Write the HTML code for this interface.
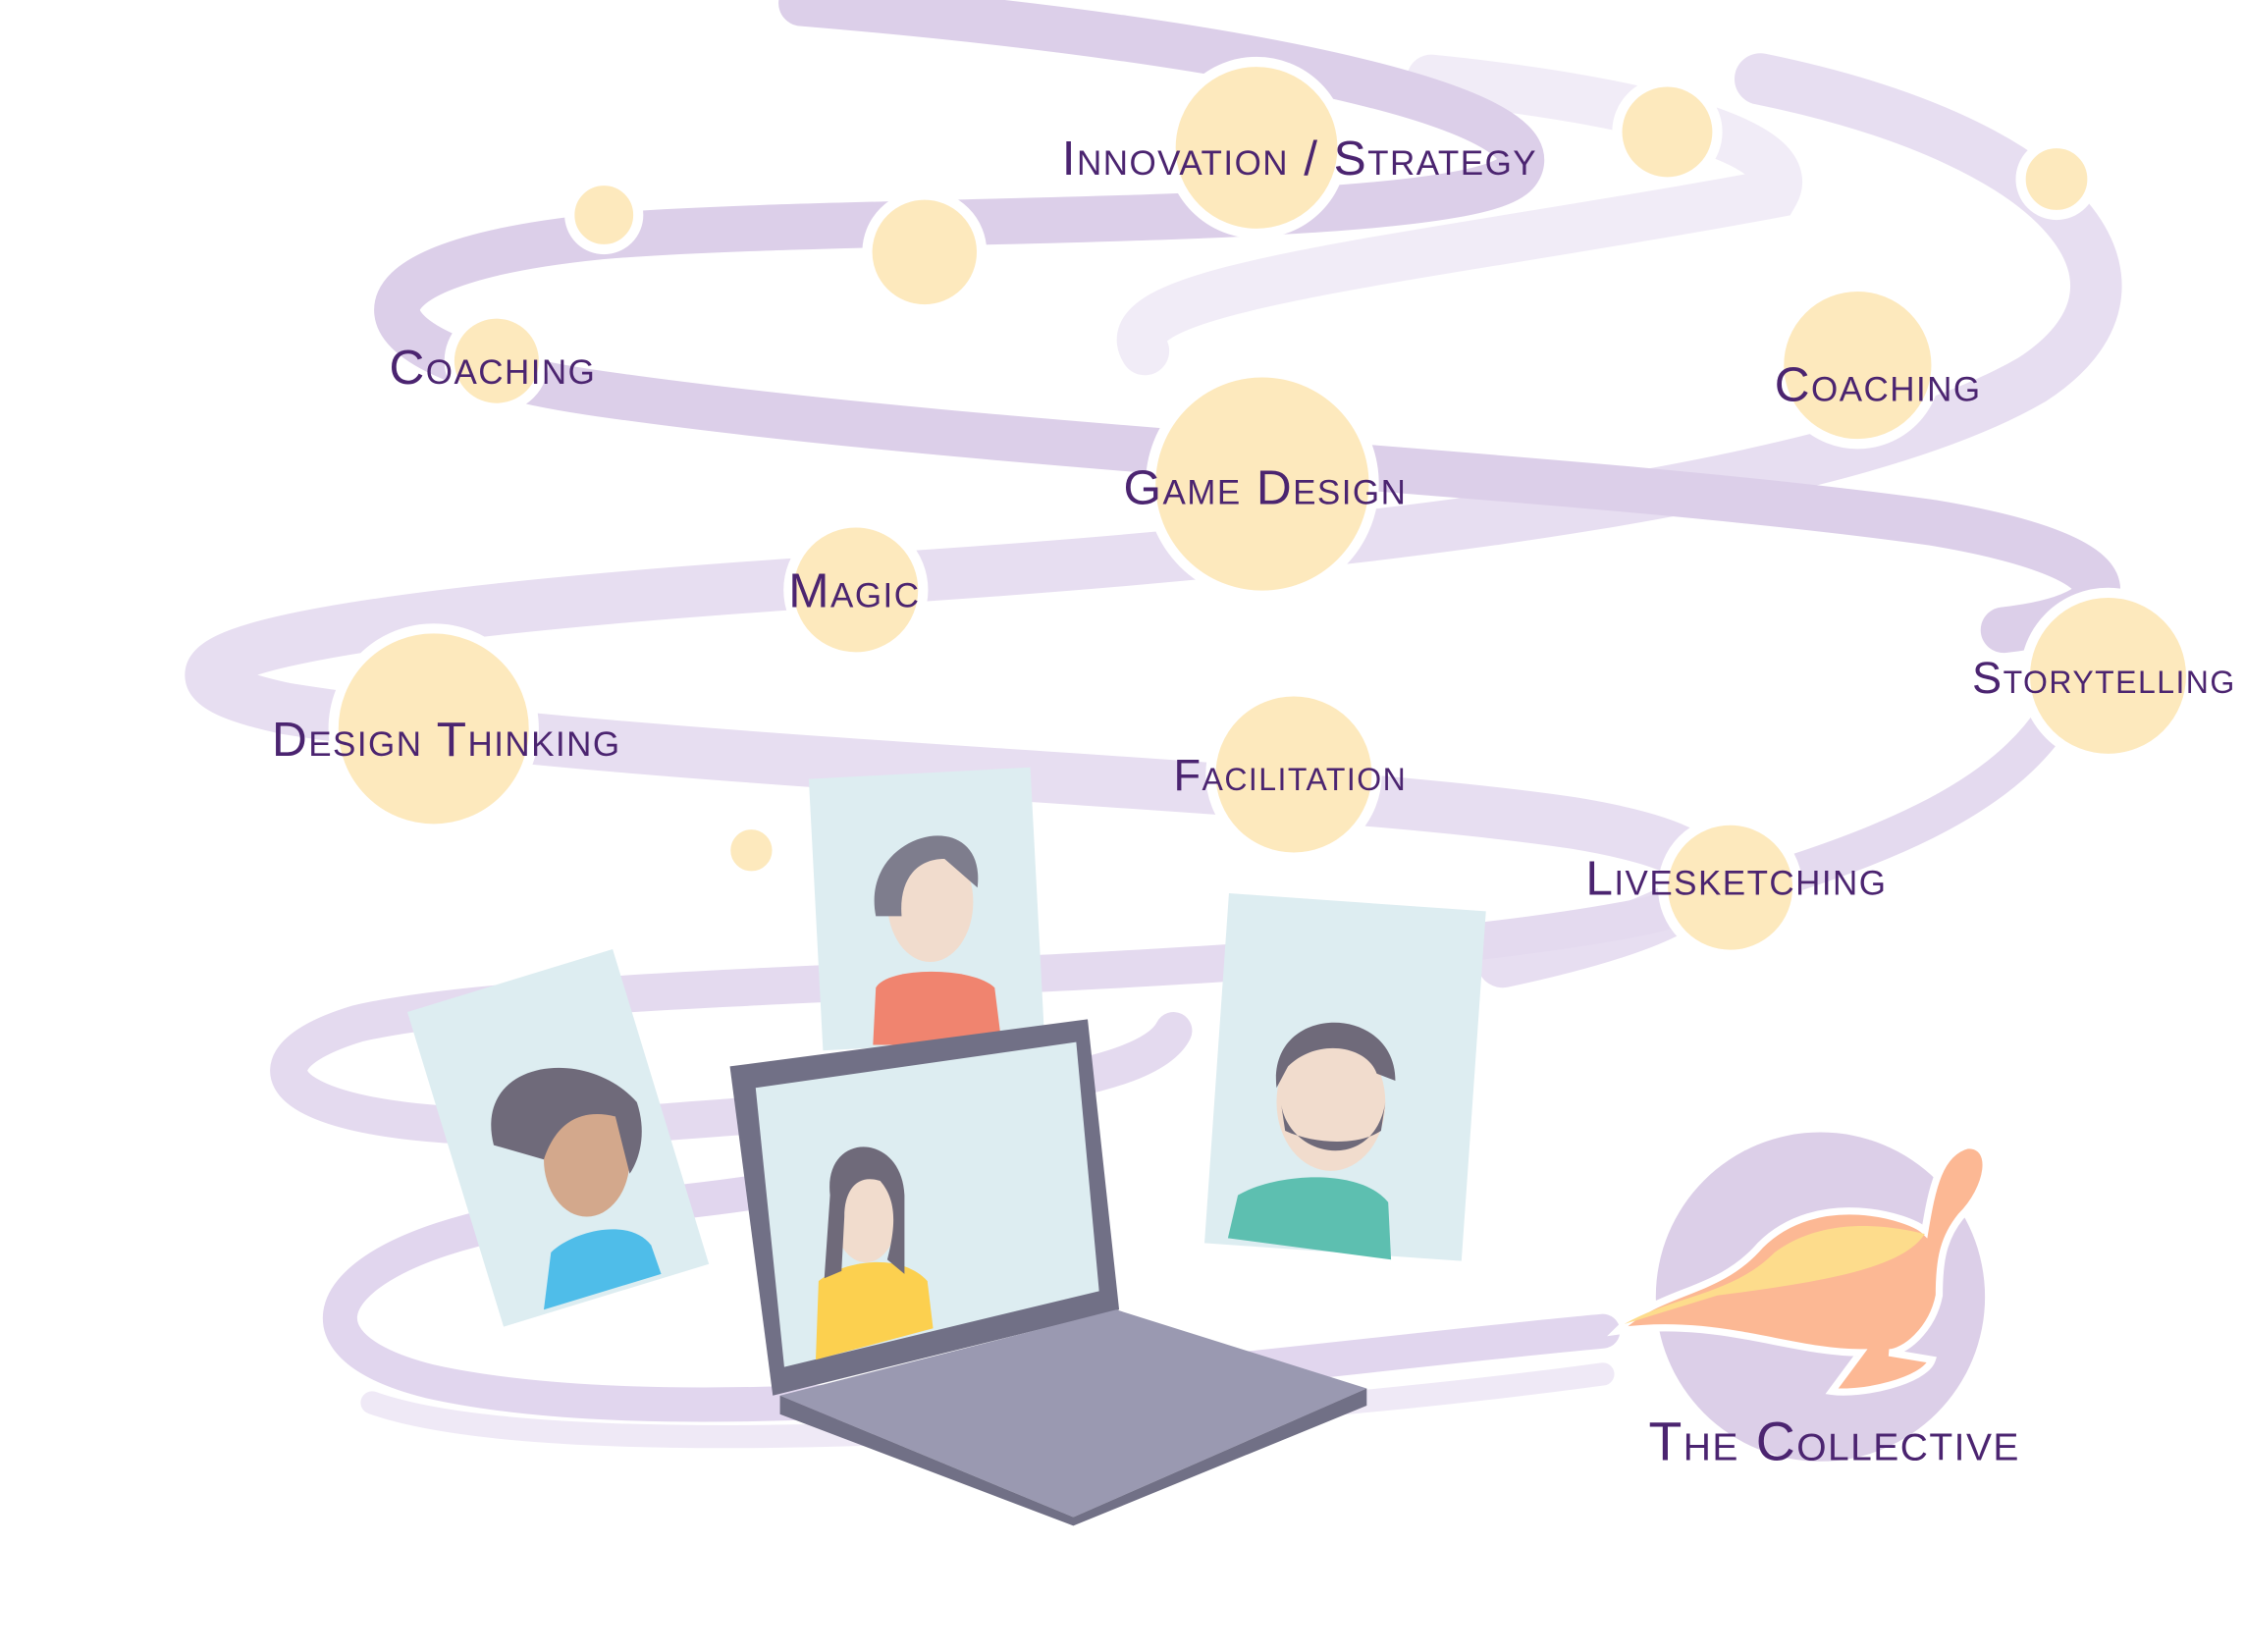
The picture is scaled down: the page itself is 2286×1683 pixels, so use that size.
<!DOCTYPE html>
<html><head><meta charset="utf-8"><style>
html,body{margin:0;padding:0;background:#fff;}
svg{display:block;}
text{font-family:"Liberation Sans Narrow","Liberation Sans",sans-serif;fill:#4b2470;font-variant:small-caps;letter-spacing:1px;}
</style></head><body>
<svg width="2286" height="1683" viewBox="0 0 1568 1154" xmlns="http://www.w3.org/2000/svg">
<rect width="1568" height="1154" fill="#fff"/>
<g fill="none" stroke-linecap="round">
<path d="M800 245 C770 200 1000 180 1240 135 C1260 100 1150 70 1000 55" stroke="#f1ecf7" stroke-width="34"/>
<path d="M1230 55 C1450 100 1520 200 1420 265 C1300 335 1000 380 600 405 C200 430 60 465 200 495 C450 535 900 545 1100 575 C1250 600 1200 640 1050 672" stroke="#e7def1" stroke-width="36"/>
<path d="M560 2 C900 30 1090 80 1060 120 C1030 160 600 150 420 165 C220 185 240 250 420 275 C700 315 1100 330 1350 365 C1500 390 1490 430 1400 440" stroke="#dccfe9" stroke-width="32"/>
<path d="M1450 470 C1420 560 1300 600 1150 640 C900 690 400 680 250 715 C150 745 200 800 450 785 C650 770 800 760 820 720" stroke="#e4daef" stroke-width="26"/>
<path d="M1120 930 C900 950 500 1010 300 965 C180 935 240 860 420 845 C600 830 700 800 600 780" stroke="#e1d6ee" stroke-width="24"/>
<path d="M1120 960 C900 990 400 1030 260 980" stroke="#efe9f6" stroke-width="16"/>
</g>
<g fill="#fde9bd" stroke="#fff" stroke-width="7">
<circle cx="878" cy="103" r="60"/>
<circle cx="1165" cy="92" r="35"/>
<circle cx="1437" cy="125" r="25"/>
<circle cx="422" cy="150" r="24"/>
<circle cx="646" cy="176" r="40"/>
<circle cx="347" cy="252" r="33"/>
<circle cx="1298" cy="255" r="55"/>
<circle cx="882" cy="338" r="78"/>
<circle cx="598" cy="412" r="47"/>
<circle cx="303" cy="509" r="70"/>
<circle cx="1473" cy="472" r="58"/>
<circle cx="904" cy="541" r="58"/>
<circle cx="1209" cy="620" r="47"/>
<circle cx="525" cy="594" r="18"/>
</g>
<circle cx="1272" cy="906" r="115" fill="#dccfe8"/>
<path d="M1130 930 C1160 900 1200 905 1230 870 C1270 830 1335 850 1345 860 C1350 830 1355 805 1375 800 C1395 800 1390 830 1370 850 C1358 865 1355 880 1355 905 C1350 930 1330 945 1320 945 L1350 950 C1345 965 1300 975 1280 972 L1300 945 C1250 945 1200 920 1130 930 Z" fill="#fcb894" stroke="#fff" stroke-width="5"/>
<path d="M1135 925 C1170 905 1210 905 1240 875 C1280 845 1335 860 1345 862 C1330 885 1280 895 1200 905 Z" fill="#fddc8c"/>
<rect x="570" y="540" width="155" height="190" fill="#ddedf1" transform="rotate(-3 647 635)"/>
<path d="M610 730 L612 690 C620 675 680 675 695 690 L700 730 Z" fill="#f0846f"/>
<ellipse cx="650" cy="630" rx="30" ry="42" fill="#f1dccd"/>
<path d="M612 640 C600 580 690 560 683 620 L660 600 C640 600 628 615 630 640 Z" fill="#7e7d8d"/>
<rect x="315" y="680" width="150" height="230" fill="#ddedf1" transform="rotate(-17 390 795)"/>
<path d="M380 915 L385 875 C400 860 440 850 455 870 L462 890 Z" fill="#4fbde9"/>
<ellipse cx="410" cy="810" rx="30" ry="40" fill="#d3a88c"/>
<path d="M345 800 C330 740 410 730 445 770 C455 800 440 820 440 820 L430 780 C410 775 390 780 380 810 Z" fill="#6f6a7a"/>
<rect x="850" y="630" width="180" height="245" fill="#ddedf1" transform="rotate(4 940 752)"/>
<path d="M858 865 L865 835 C890 820 950 815 970 840 L972 880 Z" fill="#5dbfb0"/>
<ellipse cx="930" cy="770" rx="38" ry="48" fill="#f1dccd"/>
<path d="M895 770 C900 810 960 820 968 770 L965 790 C950 800 920 800 898 790 Z" fill="#6f6a7a"/>
<path d="M892 760 C885 700 975 700 975 755 L962 750 C955 730 920 725 900 745 Z" fill="#6f6a7a"/>
<path d="M510 745 L760 712 L782 915 L540 975 Z" fill="#717086"/>
<path d="M528 760 L752 728 L768 902 L548 955 Z" fill="#ddedf1"/>
<path d="M570 950 L572 895 C590 880 630 875 648 895 L652 928 Z" fill="#fcd04f"/>
<ellipse cx="605" cy="850" rx="22" ry="32" fill="#f1dccd"/>
<path d="M580 835 C575 790 630 790 632 835 L632 890 L620 880 C625 860 628 840 615 825 C600 820 590 830 590 850 L588 888 L576 893 Z" fill="#6f6a7a"/>
<path d="M545 975 L780 915 L955 970 L750 1060 Z" fill="#9a99b1"/>
<path d="M545 975 L750 1060 L955 970 L955 982 L750 1066 L545 988 Z" fill="#717086"/>
<g font-size="34">
<text x="742" y="122">Innovation / Strategy</text>
<text x="272" y="268">Coaching</text>
<text x="1240" y="280">Coaching</text>
<text x="785" y="352">Game Design</text>
<text x="551" y="424">Magic</text>
<text x="190" y="528">Design Thinking</text>
<text x="1378" y="484" font-size="31">Storytelling</text>
<text x="820" y="552" font-size="31">Facilitation</text>
<text x="1108" y="625">Livesketching</text>
<text x="1152" y="1020" font-size="38">The Collective</text>
</g>
</svg>
</body></html>
